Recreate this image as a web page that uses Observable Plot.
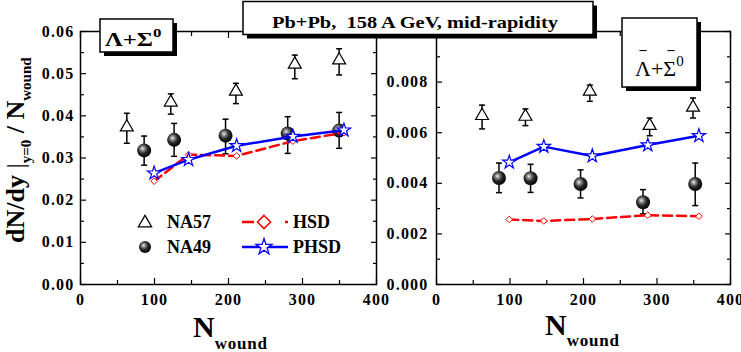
<!DOCTYPE html>
<html><head><meta charset="utf-8">
<script src="https://cdn.jsdelivr.net/npm/d3@7"></script>
<script src="https://cdn.jsdelivr.net/npm/@observablehq/plot@0.6"></script>
<style>
body{margin:0;background:#fff;}
#wrap{position:relative;width:741px;height:352px;overflow:hidden;font-family:"Liberation Serif",serif;background:#fff;}
#wrap > svg{position:absolute;top:0;}
</style></head><body><div id="wrap"></div>
<script>
// ---------- data ----------
const xTicks = [0, 100, 200, 300, 400];
const xMinor = [50, 150, 250, 350];

const lamTicks = [0, 0.01, 0.02, 0.03, 0.04, 0.05, 0.06];
const lamMinor = [0.005, 0.015, 0.025, 0.035, 0.045, 0.055];
const barTicks = [0, 0.002, 0.004, 0.006, 0.008, 0.010];
const barLabels = [0, 0.002, 0.004, 0.006, 0.008];
const barMinor = [0.001, 0.003, 0.005, 0.007, 0.009];

// Lambda + Sigma0
const lamNA57N  = [62.6, 122, 210, 289.6, 349.5];
const lamNA57V  = [0.0373, 0.0432, 0.0458, 0.0522, 0.0532];
const lamNA57Hi = [0.0406, 0.0452, 0.0477, 0.0544, 0.0559];
const lamNA57Lo = [0.0335, 0.0404, 0.0429, 0.0488, 0.0497];

const lamNA49N  = [86, 126.5, 196, 280, 349.5];
const lamNA49V  = [0.0318, 0.0343, 0.0353, 0.0358, 0.0365];
const lamNA49Hi = [0.0352, 0.0382, 0.0392, 0.0398, 0.0408];
const lamNA49Lo = [0.0283, 0.0304, 0.0310, 0.0311, 0.0323];

const lamModelN = [99.5, 146, 211, 287, 356];
const lamPHSDV  = [0.0264, 0.0296, 0.0329, 0.0351, 0.0366];
const lamHSDV   = [0.0245, 0.0308, 0.0305, 0.0340, 0.0360];

// anti-Lambda + anti-Sigma0
const barNA57N  = [62, 121, 208.6, 290, 349];
const barNA57V  = [0.00667, 0.00664, 0.00763, 0.00628, 0.00700];
const barNA57Hi = [0.00709, 0.00694, 0.00788, 0.00658, 0.00737];
const barNA57Lo = [0.00615, 0.00628, 0.00724, 0.00588, 0.00658];

const barNA49N  = [85, 128, 196, 281, 352];
const barNA49V  = [0.00421, 0.00420, 0.00397, 0.00325, 0.00397];
const barNA49Hi = [0.00480, 0.00475, 0.00453, 0.00375, 0.00480];
const barNA49Lo = [0.00363, 0.00364, 0.00342, 0.00279, 0.00312];

const barModelN = [99, 146, 212, 287.5, 357];
const barPHSDV  = [0.00483, 0.00545, 0.00508, 0.00551, 0.00588];
const barHSDV   = [0.00257, 0.00251, 0.00259, 0.00274, 0.00270];

// ---------- helpers ----------
const rows = (n, v, hi, lo) => n.map((x, i) => ({n: x, v: v[i], hi: hi ? hi[i] : null, lo: lo ? lo[i] : null}));
const capSymbol = {draw(ctx, size) { const w = Math.sqrt(size / Math.PI); ctx.moveTo(-w, 0); ctx.lineTo(w, 0); }};
const BLUE = "#0000ff", RED = "#ff0000";

function panel(cfg) {
  const na57 = cfg.na57, na49 = cfg.na49, hsd = cfg.hsd, phsd = cfg.phsd;
  const tk = {fill: "none", label: null, strokeWidth: 1.2};
  return Plot.plot({
    width: cfg.width, height: 352,
    marginLeft: cfg.ml, marginRight: cfg.mr, marginTop: 31, marginBottom: 68,
    x: {domain: [0, 400], label: null},
    y: {domain: cfg.yDomain, label: null},
    style: {background: "transparent", fontFamily: "'Liberation Serif', serif", fontSize: "16px",
            fontWeight: "bold", letterSpacing: "1.2px", overflow: "visible", color: "black"},
    marks: [
      Plot.axisY(cfg.yMajor, {anchor: "left", tickSize: 6, dx: 6, ...tk}),
      Plot.axisY(cfg.yMinor, {anchor: "left", tickSize: 4, dx: 4, ...tk}),
      Plot.axisY(cfg.yMajor, {anchor: "right", tickSize: 6, dx: -6, ...tk}),
      Plot.axisY(cfg.yMinor, {anchor: "right", tickSize: 4, dx: -4, ...tk}),
      Plot.axisX(xTicks, {anchor: "bottom", tickSize: 6, dy: -6, ...tk}),
      Plot.axisX(xMinor, {anchor: "bottom", tickSize: 4, dy: -4, ...tk}),
      Plot.axisX(xTicks, {anchor: "top", tickSize: 6, dy: 6, ...tk}),
      Plot.axisX(xMinor, {anchor: "top", tickSize: 4, dy: 4, ...tk}),
      Plot.axisY(cfg.yLabels, {anchor: "left", tickSize: 0, tickPadding: cfg.pad, tickFormat: cfg.fmt, label: null}),
      Plot.axisX(xTicks, {anchor: "bottom", tickSize: 0, tickPadding: 9, label: null}),
      Plot.frame({stroke: "black", strokeWidth: 1.5}),
      // NA49 error bars + spheres
      Plot.ruleX(na49, {x: "n", y1: "lo", y2: "hi", stroke: "black", strokeWidth: 1.5}),
      Plot.dot(na49, {x: "n", y: "hi", symbol: capSymbol, r: 3, stroke: "black", strokeWidth: 1.5, fill: "none"}),
      Plot.dot(na49, {x: "n", y: "lo", symbol: capSymbol, r: 3, stroke: "black", strokeWidth: 1.5, fill: "none"}),
      Plot.dot(na49, {x: "n", y: "v", r: 7, fill: "url(#sph)", stroke: "none"}),
      // NA57 error bars + triangles
      Plot.ruleX(na57, {x: "n", y1: "lo", y2: "hi", stroke: "black", strokeWidth: 1.5}),
      Plot.dot(na57, {x: "n", y: "hi", symbol: capSymbol, r: 3, stroke: "black", strokeWidth: 1.5, fill: "none"}),
      Plot.dot(na57, {x: "n", y: "lo", symbol: capSymbol, r: 3, stroke: "black", strokeWidth: 1.5, fill: "none"}),
      Plot.dot(na57, {x: "n", y: "v", symbol: "triangle", r: 4.8, stroke: "black", strokeWidth: 1.2, fill: "white"}),
      // models
      Plot.line(hsd, {x: "n", y: "v", stroke: RED, strokeWidth: 2.5, strokeDasharray: "9,5"}),
      Plot.dot(hsd, {x: "n", y: "v", symbol: "diamond2", r: 3, stroke: RED, strokeWidth: 1, fill: "white"}),
      Plot.line(phsd, {x: "n", y: "v", stroke: BLUE, strokeWidth: 2.5}),
      Plot.dot(phsd, {x: "n", y: "v", symbol: "star", r: 4.2, stroke: BLUE, strokeWidth: 1.2, fill: "white"})
    ]
  });
}

const wrap = document.getElementById("wrap");

const left = panel({
  width: 400, ml: 80, mr: 24, yDomain: [0, 0.06],
  yMajor: lamTicks, yMinor: lamMinor, yLabels: lamTicks, fmt: d => d.toFixed(2), pad: 6,
  na57: rows(lamNA57N, lamNA57V, lamNA57Hi, lamNA57Lo),
  na49: rows(lamNA49N, lamNA49V, lamNA49Hi, lamNA49Lo),
  hsd: rows(lamModelN, lamHSDV), phsd: rows(lamModelN, lamPHSDV)
});
left.style.left = "0px";
wrap.appendChild(left);

const right = panel({
  width: 361, ml: 56, mr: 11, yDomain: [0, 0.010],
  yMajor: barTicks, yMinor: barMinor, yLabels: barLabels, fmt: d => d.toFixed(3), pad: 8,
  na57: rows(barNA57N, barNA57V, barNA57Hi, barNA57Lo),
  na49: rows(barNA49N, barNA49V, barNA49Hi, barNA49Lo),
  hsd: rows(barModelN, barHSDV), phsd: rows(barModelN, barPHSDV)
});
right.style.left = "380px";
wrap.appendChild(right);

// ---------- annotations overlay ----------
const sym = (type, size) => d3.symbol(type, size)();
const ov = d3.select(wrap).append("svg")
  .attr("width", 741).attr("height", 352)
  .style("left", "0px")
  .attr("font-family", "'Liberation Serif', serif");

ov.append("defs").html(`
  <radialGradient id="sph" cx="0.42" cy="0.4" r="0.62" fx="0.38" fy="0.36">
    <stop offset="0" stop-color="#f4f4f4"/>
    <stop offset="0.2" stop-color="#9a9a9a"/>
    <stop offset="0.55" stop-color="#2a2a2a"/>
    <stop offset="1" stop-color="#000"/>
  </radialGradient>`);

// y axis title
ov.append("text")
  .attr("transform", "translate(24,243) rotate(-90)")
  .attr("font-size", 26).attr("font-weight", "bold")
  .html(`dN/dy <tspan font-weight="normal" font-size="26">|</tspan><tspan font-size="15" dy="7">y=0</tspan><tspan dy="-7"> / N</tspan><tspan font-size="15" dy="7">wound</tspan>`);

// x axis titles
ov.append("text").attr("x", 193).attr("y", 337).attr("font-size", 30).attr("font-weight", "bold")
  .html(`N<tspan font-size="17" dy="12" letter-spacing="0.8">wound</tspan>`);
ov.append("text").attr("x", 545).attr("y", 335).attr("font-size", 30).attr("font-weight", "bold")
  .html(`N<tspan font-size="17" dy="11" letter-spacing="0.8">wound</tspan>`);

// legend
const lg = ov.append("g").attr("font-size", 18).attr("font-weight", "bold");
lg.append("path").attr("d", sym(d3.symbolTriangle, 75)).attr("transform", "translate(145,223)")
  .attr("fill", "white").attr("stroke", "black").attr("stroke-width", 1.3);
lg.append("text").attr("x", 167).attr("y", 228).text("NA57");
lg.append("circle").attr("cx", 145).attr("cy", 247).attr("r", 6).attr("fill", "url(#sph)");
lg.append("text").attr("x", 167).attr("y", 253).text("NA49");
lg.append("line").attr("x1", 242).attr("x2", 254).attr("y1", 222).attr("y2", 222).attr("stroke", RED).attr("stroke-width", 2.5);
lg.append("line").attr("x1", 285).attr("x2", 288).attr("y1", 222).attr("y2", 222).attr("stroke", RED).attr("stroke-width", 2.5);
lg.append("path").attr("d", sym(d3.symbolDiamond2, 110)).attr("transform", "translate(264,222)")
  .attr("fill", "white").attr("stroke", RED).attr("stroke-width", 1.5);
lg.append("text").attr("x", 293).attr("y", 228).text("HSD");
lg.append("line").attr("x1", 242).attr("x2", 288).attr("y1", 247).attr("y2", 247).attr("stroke", BLUE).attr("stroke-width", 2.5);
lg.append("path").attr("d", sym(d3.symbolStar, 80)).attr("transform", "translate(264,247)")
  .attr("fill", "white").attr("stroke", BLUE).attr("stroke-width", 1.3);
lg.append("text").attr("x", 293).attr("y", 253).text("PHSD");

// boxes
function box(x, y, w, h) {
  ov.append("rect").attr("x", x + 4).attr("y", y + 4).attr("width", w).attr("height", h).attr("fill", "black");
  ov.append("rect").attr("x", x).attr("y", y).attr("width", w).attr("height", h)
    .attr("fill", "white").attr("stroke", "black").attr("stroke-width", 1.5);
}
box(243, 1.5, 350, 33);
ov.append("text").attr("transform", "translate(272,28) scale(1.2,1)")
  .attr("font-size", 17).attr("font-weight", "bold").text("Pb+Pb,  158 A GeV, mid-rapidity")
  .attr("xml:space", "preserve").style("white-space", "pre");

box(100, 19, 73, 33);
ov.append("text").attr("transform", "translate(105,46) scale(1.3,1)")
  .attr("font-size", 19).attr("font-weight", "bold")
  .html(`Λ+Σ<tspan font-size="13" dy="-9">0</tspan>`);

box(622, 18, 75, 69);
ov.append("text").attr("x", 635).attr("y", 76).attr("font-size", 22)
  .html(`Λ+Σ<tspan font-size="15" dy="-10">0</tspan>`);
ov.append("text").attr("x", 643).attr("y", 54).attr("font-size", 14).attr("font-weight", "bold")
  .attr("text-anchor", "middle").text("–");
ov.append("text").attr("x", 671).attr("y", 54).attr("font-size", 14).attr("font-weight", "bold")
  .attr("text-anchor", "middle").text("–");
</script></body></html>
